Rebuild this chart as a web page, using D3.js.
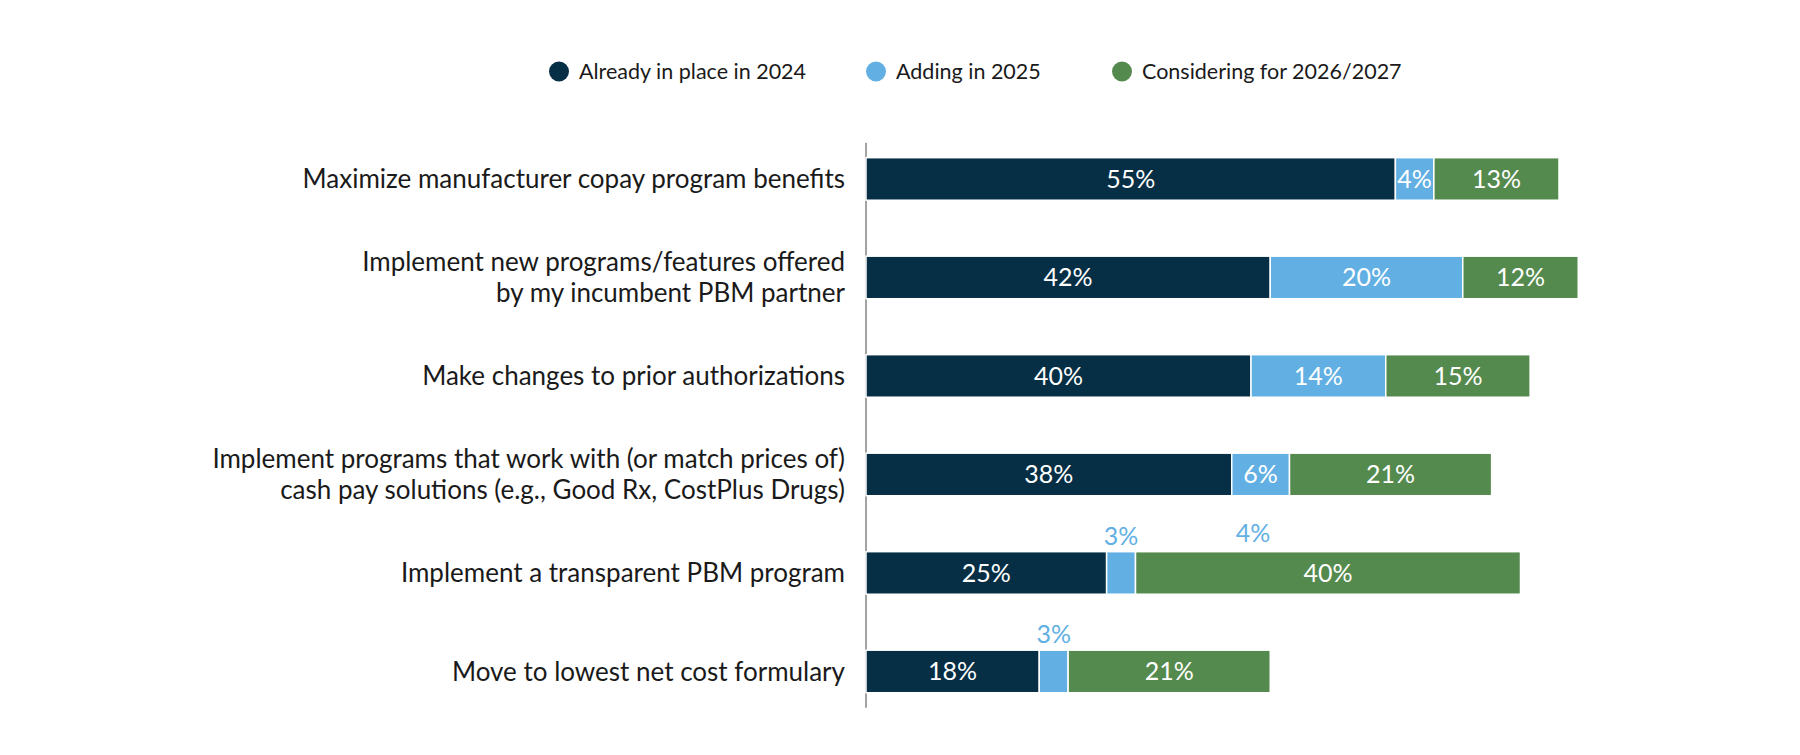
<!DOCTYPE html>
<html>
<head>
<meta charset="utf-8">
<script src="https://cdn.jsdelivr.net/npm/d3@7"></script>
<style>
  body { margin: 0; background: #fff; }
  text { font-family: Lato, "Open Sans", sans-serif; }
</style>
</head>
<body>
<div id="chart"></div>
<script>
// ===========================================
// Data
var categories = [
    ["Maximize manufacturer copay program benefits"],
    ["Implement new programs/features offered", "by my incumbent PBM partner"],
    ["Make changes to prior authorizations"],
    ["Implement programs that work with (or match prices of)", "cash pay solutions (e.g., Good Rx, CostPlus Drugs)"],
    ["Implement a transparent PBM program"],
    ["Move to lowest net cost formulary"]
];
var seriesNames = ["Already in place in 2024", "Adding in 2025", "Considering for 2026/2027"];
var alreadyInPlace = [55, 42, 40, 38, 25, 18];
var adding2025 = [4, 20, 14, 6, 3, 3];
var considering = [13, 12, 15, 21, 40, 21];
// stray label shown above row 5 in the original
var extraLabels = [{ row: 4, at: 40.2, text: "4%" }];

var colors = ["#062e44", "#62b0e3", "#558a4e"];

// ===========================================
// Set up SVG element & chart area
var svgWidth = 1800;
var svgHeight = 755;

var svg = d3.select("#chart")
    .append("svg")
    .attr("width", svgWidth)
    .attr("height", svgHeight);

var rows = categories.map(function(c, i) {
    return { key: i, label: c, vals: [alreadyInPlace[i], adding2025[i], considering[i]] };
});

var xscale = d3.scaleLinear().domain([0, 100]).range([866, 866 + 962.5]);
var yscale = d3.scaleBand()
    .domain(rows.map(d => d.key))
    .range([129.7, 720.7])
    .paddingInner(0.568)
    .paddingOuter(0.284);

// legend
var legendX = [559, 876, 1122];
var legend = svg.append("g");
seriesNames.forEach(function(name, i) {
    legend.append("circle")
        .attr("cx", legendX[i])
        .attr("cy", 71.5)
        .attr("r", 10)
        .attr("fill", colors[i]);
    legend.append("text")
        .attr("x", legendX[i] + 20)
        .attr("y", 71.5)
        .attr("dy", "0.35em")
        .attr("font-size", "21.5px")
        .attr("fill", "#1a1a1a")
        .text(name);
});

// axis line
svg.append("line")
    .attr("x1", xscale(0)).attr("x2", xscale(0))
    .attr("y1", yscale.range()[0] + 13)
    .attr("y2", yscale.range()[1] - 13)
    .attr("stroke", "#666")
    .attr("stroke-width", 1.2);

// category labels
var labelGroup = svg.append("g");
rows.forEach(function(r) {
    var cy = yscale(r.key) + yscale.bandwidth() / 2;
    var n = r.label.length;
    var t = labelGroup.append("text")
        .attr("x", 845)
        .attr("text-anchor", "end")
        .attr("font-size", "26px")
        .attr("fill", "#1a1a1a");
    r.label.forEach(function(line, j) {
        t.append("tspan")
            .attr("x", 845)
            .attr("y", cy + (j - (n - 1) / 2) * 31)
            .attr("dy", "0.35em")
            .text(line);
    });
});

// stacked bars
var stack = d3.stack().keys([0, 1, 2]).value((d, k) => d.vals[k]);
var layers = stack(rows);

var barGroup = svg.append("g");
layers.forEach(function(layer, k) {
    barGroup.selectAll(null)
        .data(layer)
        .enter()
        .append("rect")
        .attr("x", d => xscale(d[0]))
        .attr("y", d => yscale(d.data.key))
        .attr("width", d => xscale(d[1]) - xscale(d[0]))
        .attr("height", yscale.bandwidth())
        .attr("fill", colors[k])
        .attr("stroke", "#fff")
        .attr("stroke-width", 1.5);

    barGroup.selectAll(null)
        .data(layer)
        .enter()
        .append("text")
        .attr("x", d => xscale((d[0] + d[1]) / 2))
        .attr("y", function(d) {
            var top = yscale(d.data.key);
            return d[1] - d[0] < 4 ? top - 7 : top + yscale.bandwidth() / 2;
        })
        .attr("dy", d => d[1] - d[0] < 4 ? "0" : "0.35em")
        .attr("text-anchor", "middle")
        .attr("font-size", "25px")
        .attr("fill", d => d[1] - d[0] < 4 ? colors[1] : "#fff")
        .text(d => (d[1] - d[0]) + "%");
});

// extra label
svg.selectAll(null)
    .data(extraLabels)
    .enter()
    .append("text")
    .attr("x", d => xscale(d.at))
    .attr("y", d => yscale(d.row) - 10)
    .attr("text-anchor", "middle")
    .attr("font-size", "25px")
    .attr("fill", colors[1])
    .text(d => d.text);
</script>
</body>
</html>
